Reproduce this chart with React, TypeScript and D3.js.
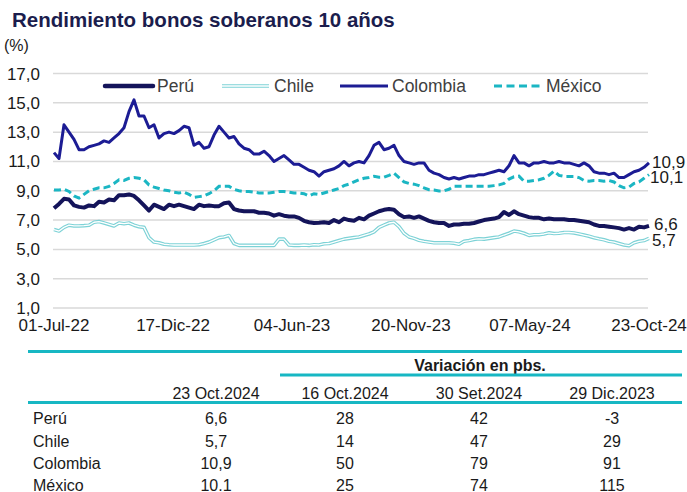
import React from 'react';
import * as d3 from 'd3';

// weekly-ish readings, 01-Jul-22 .. 23-Oct-24 (120 evenly spaced points)
const peru = [7.8, 8.1, 8.45, 8.4, 8.0, 7.9, 7.85, 8.0, 7.95, 8.25, 8.2, 8.4, 8.35, 8.7, 8.7, 8.75, 8.65, 8.35, 8.0, 7.65,
  8.05, 7.9, 7.75, 8.05, 7.95, 8.05, 7.95, 7.85, 7.75, 8.05, 7.95, 8.0, 7.95, 7.95, 8.15, 8.2, 7.75, 7.65, 7.6, 7.6,
  7.6, 7.5, 7.5, 7.45, 7.3, 7.4, 7.3, 7.25, 7.25, 7.15, 6.95, 6.85, 6.8, 6.82, 6.85, 6.8, 7.0, 6.85, 7.1, 7.0,
  6.95, 7.15, 7.05, 7.3, 7.45, 7.6, 7.7, 7.75, 7.7, 7.4, 7.2, 7.25, 7.15, 7.25, 7.1, 6.95, 6.85, 6.8, 6.8, 6.6,
  6.7, 6.7, 6.75, 6.75, 6.8, 6.9, 7.0, 7.05, 7.1, 7.2, 7.55, 7.35, 7.6, 7.4, 7.3, 7.2, 7.15, 7.15, 7.05, 7.1,
  7.05, 7.05, 7.05, 7.0, 7.0, 6.95, 6.9, 6.85, 6.7, 6.6, 6.6, 6.55, 6.5, 6.45, 6.35, 6.45, 6.35, 6.55, 6.5, 6.6];

const chile = [6.35, 6.25, 6.5, 6.65, 6.6, 6.6, 6.62, 6.65, 6.85, 6.9, 6.8, 6.7, 6.6, 6.8, 6.75, 6.8, 6.65, 6.55, 6.5, 5.8,
  5.5, 5.45, 5.35, 5.32, 5.3, 5.3, 5.3, 5.3, 5.3, 5.32, 5.4, 5.5, 5.65, 5.8, 5.85, 5.95, 5.4, 5.27, 5.27, 5.27,
  5.27, 5.27, 5.27, 5.27, 5.27, 5.7, 5.7, 5.3, 5.27, 5.27, 5.3, 5.27, 5.32, 5.3, 5.38, 5.4, 5.5, 5.6, 5.7, 5.75,
  5.8, 5.85, 5.95, 6.05, 6.2, 6.5, 6.65, 6.8, 6.85, 6.55, 6.1, 5.85, 5.75, 5.62, 5.55, 5.5, 5.45, 5.45, 5.45, 5.45,
  5.42, 5.35, 5.55, 5.6, 5.68, 5.72, 5.7, 5.75, 5.8, 5.85, 5.98, 6.1, 6.25, 6.2, 6.1, 5.95, 6.0, 6.0, 6.05, 6.13,
  6.08, 6.1, 6.15, 6.15, 6.12, 6.05, 5.98, 5.9, 5.8, 5.72, 5.65, 5.55, 5.5, 5.4, 5.3, 5.25, 5.45, 5.55, 5.6, 5.75];

const colombia = [11.6, 11.2, 13.5, 13.0, 12.5, 11.8, 11.8, 12.0, 12.1, 12.2, 12.4, 12.3, 12.6, 12.9, 13.3, 14.4, 15.2, 14.1, 14.1, 13.3,
  13.5, 12.6, 12.9, 13.0, 12.9, 13.1, 13.4, 13.3, 12.1, 12.3, 11.9, 12.0, 12.8, 13.4, 13.0, 12.6, 12.7, 12.2, 11.9, 11.8,
  11.5, 11.5, 11.7, 11.4, 11.0, 11.2, 11.4, 11.1, 10.8, 10.8, 10.6, 10.4, 10.3, 10.0, 10.3, 10.4, 10.5, 10.7, 11.0, 10.7,
  10.9, 11.0, 10.9, 11.4, 12.1, 12.3, 11.8, 11.9, 12.1, 11.4, 11.0, 10.9, 10.8, 10.9, 10.9, 10.4, 10.2, 10.1, 9.9, 9.8,
  9.9, 9.8, 9.9, 10.0, 10.0, 10.1, 10.1, 10.2, 10.3, 10.4, 10.3, 10.7, 11.4, 10.9, 10.9, 10.7, 10.9, 10.9, 11.0, 10.9,
  10.9, 11.0, 10.9, 10.9, 10.8, 10.7, 10.9, 10.7, 10.3, 10.2, 10.2, 10.1, 10.2, 9.9, 9.9, 10.1, 10.3, 10.4, 10.6, 10.9];

const mexico = [9.05, 9.05, 9.1, 8.95, 8.65, 8.5, 8.75, 9.0, 9.1, 9.2, 9.2, 9.3, 9.5, 9.75, 9.7, 9.85, 9.9, 9.85, 9.75, 9.4,
  9.25, 9.15, 9.05, 9.0, 8.9, 8.85, 8.9, 8.75, 8.55, 8.6, 8.65, 8.8, 9.0, 9.3, 9.3, 9.3, 9.1, 9.0, 8.95, 8.95,
  8.9, 8.85, 8.85, 8.85, 8.9, 8.95, 8.95, 8.9, 8.85, 8.85, 8.8, 8.65, 8.8, 8.75, 8.85, 8.95, 9.05, 9.15, 9.35, 9.45,
  9.6, 9.75, 9.85, 9.9, 9.98, 9.92, 9.92, 10.05, 10.2, 9.9, 9.6, 9.5, 9.45, 9.35, 9.2, 9.07, 9.05, 8.98, 9.0, 9.1,
  9.3, 9.3, 9.3, 9.3, 9.3, 9.3, 9.3, 9.3, 9.35, 9.4, 9.5, 9.8, 9.95, 10.0, 9.65, 9.65, 9.7, 9.75, 9.85, 10.05,
  10.35, 10.05, 9.98, 9.98, 9.98, 9.9, 9.7, 9.65, 9.7, 9.7, 9.65, 9.7, 9.6, 9.35, 9.2, 9.25, 9.5, 9.6, 9.85, 10.1];

const yTicks = [1, 3, 5, 7, 9, 11, 13, 15, 17];
const xTickDates = ['2022-07-01', '2022-12-17', '2023-06-04', '2023-11-20', '2024-05-07', '2024-10-23'];
const xTickLabels = ['01-Jul-22', '17-Dic-22', '04-Jun-23', '20-Nov-23', '07-May-24', '23-Oct-24'];

const endLabels = ['10,9', '10,1', '6,6', '5,7'];

const tableCountries = ['Perú', 'Chile', 'Colombia', 'México'];
const tableHeaders = ['23 Oct.2024', '16 Oct.2024', '30 Set.2024', '29 Dic.2023'];
const tableLevel = ['6,6', '5,7', '10,9', '10.1'];
const tableVar16Oct = [28, 14, 50, 25];
const tableVar30Sep = [42, 47, 79, 74];
const tableVar29Dec = [-3, 29, 91, 115];

const FONT = '"Liberation Sans", Arial, sans-serif';
const NAVY = '#14145a';
const BLUE = '#1c1c94';
const TEAL = '#1bb6c3';
const CHILE = '#7dd2d6';
const LINE_TEAL = '#17b7c3';

const parse = d3.timeParse('%Y-%m-%d');
const start = parse('2022-07-01') as Date;
const end = parse('2024-10-23') as Date;

export default function App() {
  const n = peru.length;
  const dates = d3.range(n).map(i => new Date(+start + (i * (+end - +start)) / (n - 1)));

  const x = d3.scaleTime().domain([start, end]).range([54, 649]);
  const y = d3.scaleLinear().domain([1, 17]).range([308, 73.5]);

  const line = d3.line<number>()
    .x((_, i) => x(dates[i]))
    .y(d => y(d))
    .curve(d3.curveLinear);

  const lastY = (arr: number[]) => y(arr[arr.length - 1]);
  const endLabelPos = [
    { v: colombia, dy: 5, dx: 3 },
    { v: mexico, dy: 8, dx: 1 },
    { v: peru, dy: 4, dx: 5 },
    { v: chile, dy: 8, dx: 3 },
  ];

  const legendItems = [
    { name: 'Perú', x0: 105, kind: 'peru' },
    { name: 'Chile', x0: 222, kind: 'chile' },
    { name: 'Colombia', x0: 340, kind: 'col' },
    { name: 'México', x0: 494, kind: 'mex' },
  ];

  const colX = [216, 345, 479, 612];
  const rowY = [424, 446.5, 469, 491];
  const tableCols = [tableLevel, tableVar16Oct, tableVar30Sep, tableVar29Dec];

  return (
    <svg width={687} height={492} style={{ position: 'absolute', left: 0, top: 0, background: '#fff' }}
      fontFamily={FONT}>
      <text x={12} y={27} fontSize={20.5} fontWeight="bold" fill="#1b1d4d">Rendimiento bonos soberanos 10 años</text>
      <text x={4} y={51} fontSize={16} fill="#1a1a1a">(%)</text>

      {yTicks.map(t => (
        <g key={t}>
          <line x1={53} x2={648} y1={y(t)} y2={y(t)} stroke="#d9d9d9" strokeWidth={1.5} />
          <text x={40} y={y(t) + 6} fontSize={17} textAnchor="end" fill="#1a1a1a">{d3.format('.1f')(t).replace('.', ',')}</text>
        </g>
      ))}

      {xTickDates.map((d, i) => (
        <text key={d} x={x(parse(d) as Date)} y={331} fontSize={17} textAnchor="middle" fill="#1a1a1a">{xTickLabels[i]}</text>
      ))}

      {/* series */}
      <path d={line(chile) || ''} fill="none" stroke={CHILE} strokeWidth={3.6} strokeLinejoin="round" />
      <path d={line(chile) || ''} fill="none" stroke="#fff" strokeWidth={1.3} strokeLinejoin="round" />
      <path d={line(mexico) || ''} fill="none" stroke={TEAL} strokeWidth={3} strokeDasharray="7,4" />
      <path d={line(peru) || ''} fill="none" stroke={NAVY} strokeWidth={4} strokeLinejoin="round" />
      <path d={line(colombia) || ''} fill="none" stroke={BLUE} strokeWidth={3} strokeLinejoin="round" />

      {endLabelPos.map((p, i) => (
        <text key={i} x={649 + p.dx} y={lastY(p.v) + p.dy} fontSize={17} fill="#1a1a1a">{endLabels[i]}</text>
      ))}

      {/* legend */}
      {legendItems.map(it => (
        <g key={it.name}>
          {it.kind === 'peru' && <line x1={it.x0} x2={it.x0 + 48} y1={86} y2={86} stroke={NAVY} strokeWidth={4.5} strokeLinecap="round" />}
          {it.kind === 'chile' && <>
            <line x1={it.x0} x2={it.x0 + 47} y1={86} y2={86} stroke={CHILE} strokeWidth={3.6} />
            <line x1={it.x0} x2={it.x0 + 47} y1={86} y2={86} stroke="#fff" strokeWidth={1.3} />
          </>}
          {it.kind === 'col' && <line x1={it.x0} x2={it.x0 + 48} y1={86} y2={86} stroke={BLUE} strokeWidth={3} />}
          {it.kind === 'mex' && <line x1={it.x0} x2={it.x0 + 47} y1={86} y2={86} stroke={TEAL} strokeWidth={3} strokeDasharray="8,4.5" />}
          <text x={it.x0 + 52} y={92} fontSize={17.5} fill="#404040">{it.name}</text>
        </g>
      ))}

      {/* table */}
      <line x1={28} x2={682} y1={351.5} y2={351.5} stroke={LINE_TEAL} strokeWidth={3} />
      <text x={480} y={371} fontSize={16} fontWeight="bold" textAnchor="middle" fill="#1a1a1a">Variación en pbs.</text>
      <line x1={280} x2={682} y1={375} y2={375} stroke={LINE_TEAL} strokeWidth={3} />
      {tableHeaders.map((h, i) => (
        <text key={h} x={colX[i]} y={399} fontSize={16} textAnchor="middle" fill="#1a1a1a">{h}</text>
      ))}
      <line x1={28} x2={682} y1={402.5} y2={402.5} stroke={LINE_TEAL} strokeWidth={3} />
      {tableCountries.map((c, r) => (
        <g key={c}>
          <text x={33} y={rowY[r]} fontSize={16} fill="#1a1a1a">{c}</text>
          {tableCols.map((col, ci) => (
            <text key={ci} x={colX[ci]} y={rowY[r]} fontSize={16} textAnchor="middle" fill="#1a1a1a">{String(col[r])}</text>
          ))}
        </g>
      ))}
    </svg>
  );
}
